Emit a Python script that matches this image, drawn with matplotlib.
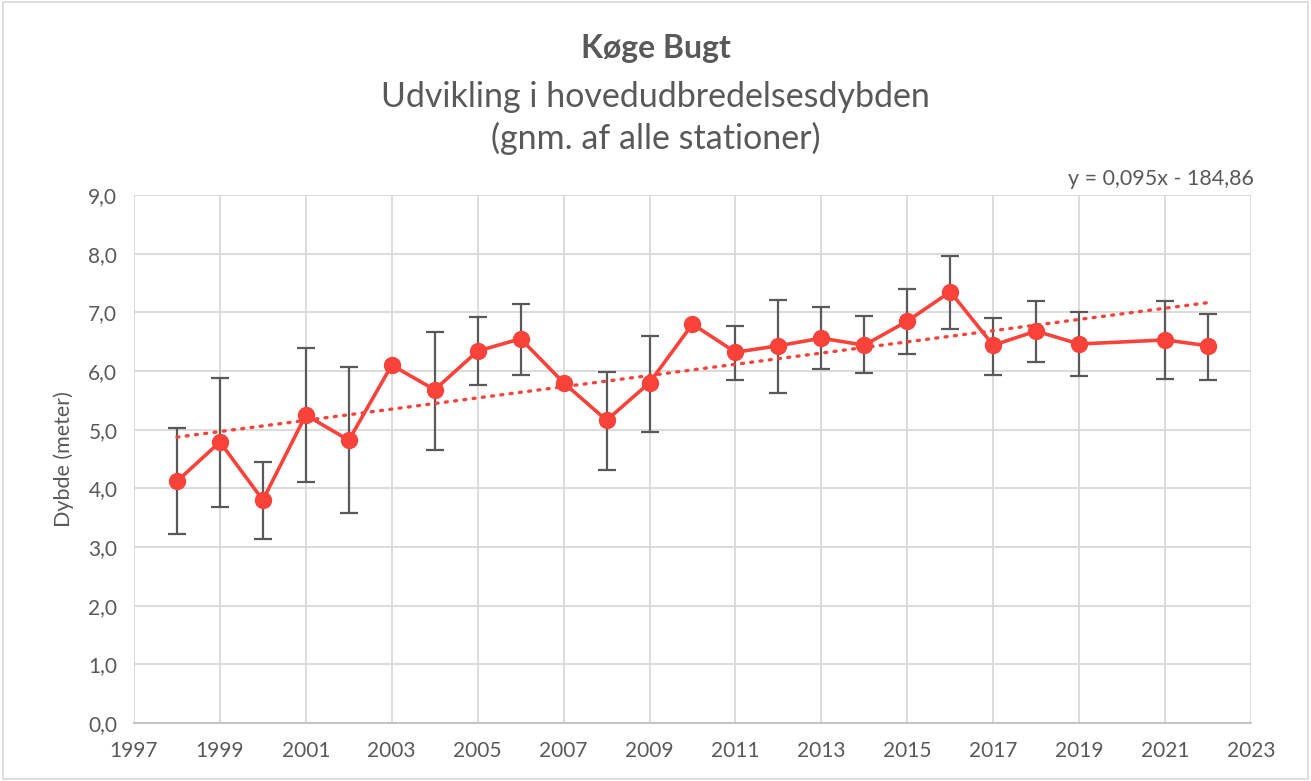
import numpy as np
import matplotlib.pyplot as plt
from matplotlib.ticker import FuncFormatter, MultipleLocator

plt.rcParams['font.family'] = ['Lato', 'DejaVu Sans']

years = [1998, 1999, 2000, 2001, 2002, 2003, 2004, 2005, 2006, 2007, 2008, 2009,
         2010, 2011, 2012, 2013, 2014, 2015, 2016, 2017, 2018, 2019, 2021, 2022]
depth = [4.12, 4.79, 3.80, 5.25, 4.82, 6.10, 5.68, 6.34, 6.55, 5.80, 5.16, 5.80,
         6.80, 6.32, 6.43, 6.56, 6.44, 6.85, 7.35, 6.44, 6.68, 6.46, 6.53, 6.43]
err_top = [5.03, 5.88, 4.45, 6.39, 6.07, None, 6.66, 6.92, 7.14, None, 5.98, 6.60,
           None, 6.77, 7.21, 7.09, 6.94, 7.40, 7.96, 6.90, 7.19, 7.01, 7.19, 6.97]
err_bot = [3.22, 3.68, 3.13, 4.11, 3.58, None, 4.65, 5.76, 5.93, None, 4.32, 4.96,
           None, 5.85, 5.62, 6.03, 5.97, 6.29, 6.72, 5.93, 6.15, 5.91, 5.86, 5.85]
xticks = list(range(1997, 2024, 2))

grey = '#595959'
red = '#F9423A'

x = np.array(years, dtype=float)
y = np.array(depth)
top = np.array([np.nan if v is None else v for v in err_top])
bot = np.array([np.nan if v is None else v for v in err_bot])
has_err = ~np.isnan(top)

fig = plt.figure(figsize=(13.11, 7.81), dpi=100)
ax = fig.add_axes([0.1022, 0.0743, 0.852, 0.676])

# error bars
ax.errorbar(x[has_err], y[has_err],
            yerr=[y[has_err] - bot[has_err], top[has_err] - y[has_err]],
            fmt='none', ecolor=grey, elinewidth=1.6, capsize=6.5, capthick=1.6, zorder=2)

# trend line (least squares, like Excel)
slope, icpt = np.polyfit(x, y, 1)
xt = np.array([x[0], x[-1]])
ax.plot(xt, slope * xt + icpt, color=red, lw=2.4, ls=(0, (0.6, 2.2)),
        dash_capstyle='round', zorder=3)

ax.plot(x, y, color=red, lw=2.6, marker='o', ms=11.5, zorder=4)

ax.set_xlim(1997, 2023)
ax.set_ylim(0, 9)
ax.set_xticks(xticks)
ax.yaxis.set_major_locator(MultipleLocator(1))
ax.yaxis.set_major_formatter(FuncFormatter(lambda v, p: f'{v:.1f}'.replace('.', ',')))
ax.grid(True, color='#D9D9D9', lw=1.3)
ax.set_axisbelow(True)
for s in ['top', 'right', 'left']:
    ax.spines[s].set_visible(False)
ax.spines['bottom'].set_color('#BFBFBF')
ax.spines['bottom'].set_linewidth(1.3)
ax.tick_params(length=0, labelsize=15, colors=grey)
ax.tick_params(axis='x', pad=13)
ax.tick_params(axis='y', pad=12)
ax.set_ylabel('Dybde (meter)', fontsize=15.5, color=grey, labelpad=10)

ax.text(1.003, 1.012, 'y = 0,095x - 184,86', transform=ax.transAxes,
        ha='right', va='bottom', fontsize=15.5, color=grey)

fig.text(0.5, 0.938, 'Køge Bugt', ha='center', va='center', fontsize=23,
         fontweight='bold', color=grey)
fig.text(0.5, 0.876, 'Udvikling i hovedudbredelsesdybden', ha='center', va='center',
         fontsize=24.5, color=grey)
fig.text(0.5, 0.823, '(gnm. af alle stationer)', ha='center', va='center',
         fontsize=24.5, color=grey)

fig.patches.append(plt.Rectangle((0.002, 0.002), 0.996, 0.996, transform=fig.transFigure,
                                 fill=False, edgecolor='#D9D9D9', lw=1.2))

fig.savefig('out.png', dpi=100)
